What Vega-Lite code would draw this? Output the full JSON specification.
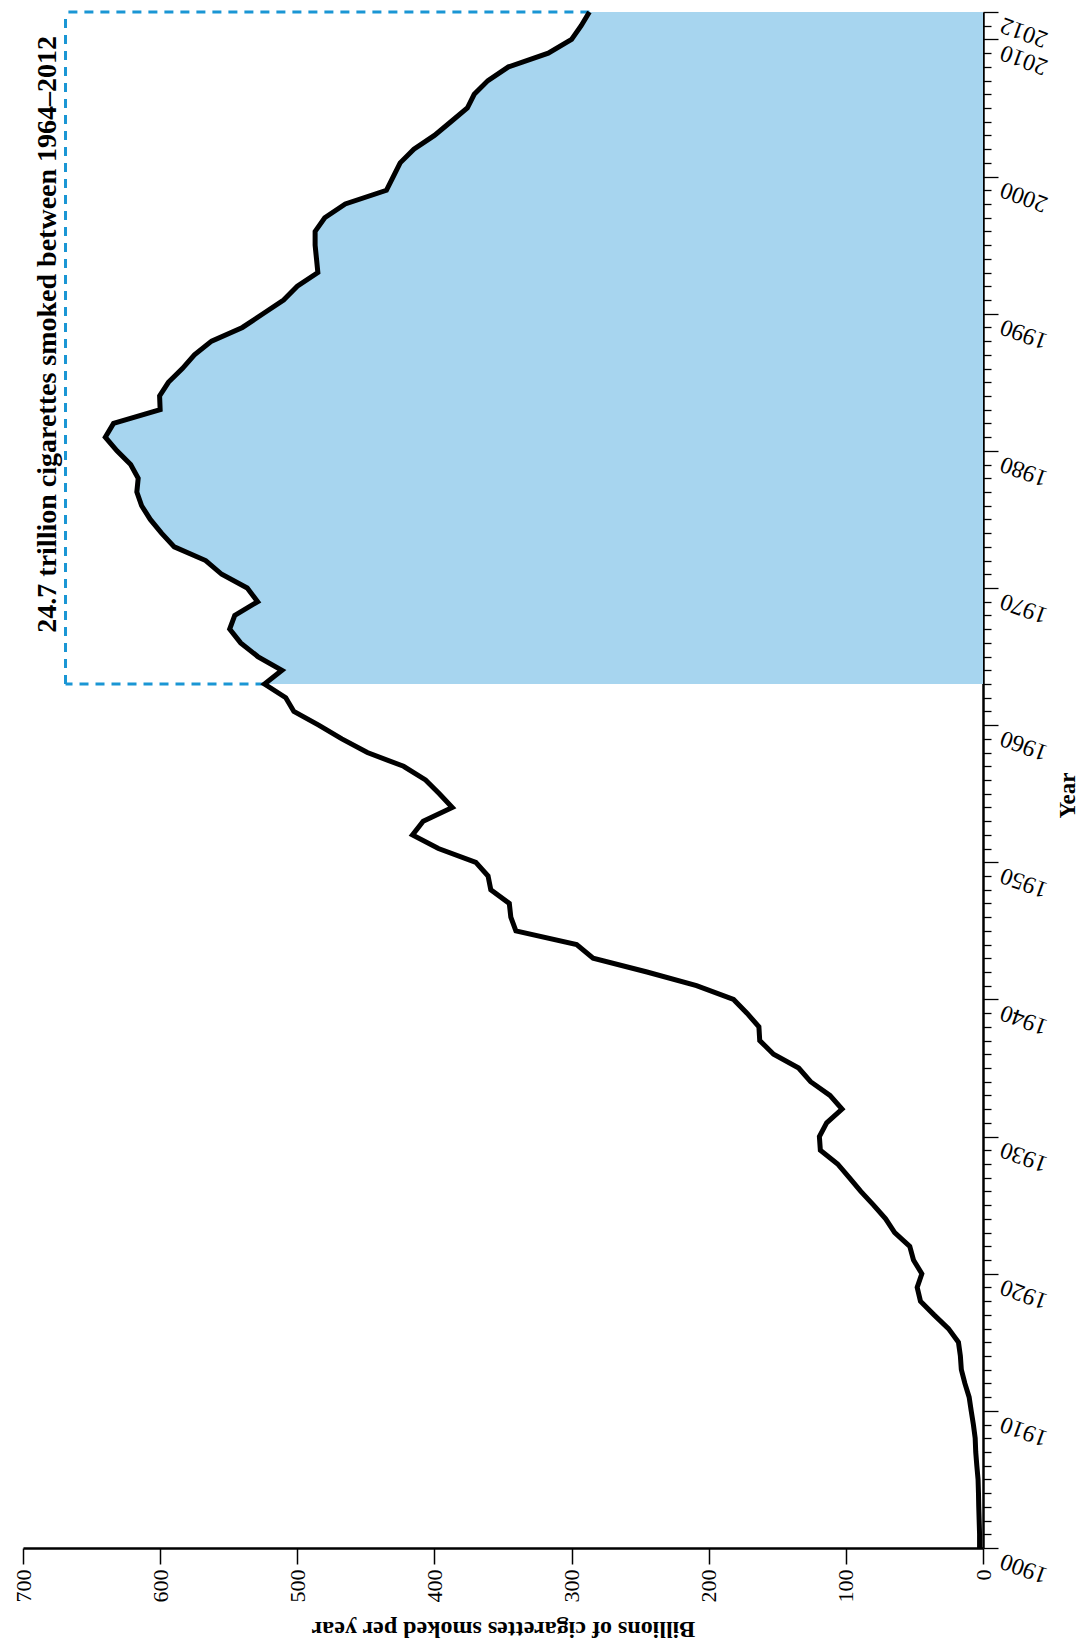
{
  "$schema": "https://vega.github.io/schema/vega-lite/v6.json",
  "width": 960,
  "height": 1536,
  "autosize": {"type": "none"},
  "padding": {"left": 23, "top": 12, "right": 101, "bottom": 96},
  "background": "white",
  "config": {
    "view": {"stroke": null},
    "font": "Liberation Serif"
  },
  "resolve": {"axis": {"x": "independent", "y": "independent"}},
  "datasets": {
    "cig": [
      {"year": 1900, "billions": 2.5}, {"year": 1901, "billions": 2.5}, {"year": 1902, "billions": 2.8}, {"year": 1903, "billions": 3.1}, {"year": 1904, "billions": 3.3}, {"year": 1905, "billions": 3.6}, {"year": 1906, "billions": 4.5}, {"year": 1907, "billions": 5.3}, {"year": 1908, "billions": 5.7}, {"year": 1909, "billions": 7.0},
      {"year": 1910, "billions": 8.6}, {"year": 1911, "billions": 10.1}, {"year": 1912, "billions": 13.2}, {"year": 1913, "billions": 15.8}, {"year": 1914, "billions": 16.5}, {"year": 1915, "billions": 17.9}, {"year": 1916, "billions": 25.2}, {"year": 1917, "billions": 35.7}, {"year": 1918, "billions": 45.6}, {"year": 1919, "billions": 48.0},
      {"year": 1920, "billions": 44.6}, {"year": 1921, "billions": 50.7}, {"year": 1922, "billions": 53.4}, {"year": 1923, "billions": 64.4}, {"year": 1924, "billions": 71.0}, {"year": 1925, "billions": 79.8}, {"year": 1926, "billions": 89.1}, {"year": 1927, "billions": 97.5}, {"year": 1928, "billions": 106.0}, {"year": 1929, "billions": 118.6},
      {"year": 1930, "billions": 119.3}, {"year": 1931, "billions": 114.0}, {"year": 1932, "billions": 102.8}, {"year": 1933, "billions": 111.6}, {"year": 1934, "billions": 125.7}, {"year": 1935, "billions": 134.4}, {"year": 1936, "billions": 152.7}, {"year": 1937, "billions": 162.8}, {"year": 1938, "billions": 163.4}, {"year": 1939, "billions": 172.1},
      {"year": 1940, "billions": 181.9}, {"year": 1941, "billions": 208.9}, {"year": 1942, "billions": 245.0}, {"year": 1943, "billions": 284.3}, {"year": 1944, "billions": 296.3}, {"year": 1945, "billions": 340.6}, {"year": 1946, "billions": 344.3}, {"year": 1947, "billions": 345.4}, {"year": 1948, "billions": 358.9}, {"year": 1949, "billions": 360.9},
      {"year": 1950, "billions": 369.8}, {"year": 1951, "billions": 397.1}, {"year": 1952, "billions": 416.0}, {"year": 1953, "billions": 408.2}, {"year": 1954, "billions": 387.0}, {"year": 1955, "billions": 396.4}, {"year": 1956, "billions": 406.5}, {"year": 1957, "billions": 422.5}, {"year": 1958, "billions": 448.9}, {"year": 1959, "billions": 467.5},
      {"year": 1960, "billions": 484.4}, {"year": 1961, "billions": 502.5}, {"year": 1962, "billions": 508.4}, {"year": 1963, "billions": 523.9}, {"year": 1964, "billions": 511.2}, {"year": 1965, "billions": 528.8}, {"year": 1966, "billions": 541.3}, {"year": 1967, "billions": 549.3}, {"year": 1968, "billions": 545.6}, {"year": 1969, "billions": 528.9},
      {"year": 1970, "billions": 536.5}, {"year": 1971, "billions": 555.1}, {"year": 1972, "billions": 566.8}, {"year": 1973, "billions": 589.7}, {"year": 1974, "billions": 599.0}, {"year": 1975, "billions": 607.2}, {"year": 1976, "billions": 613.5}, {"year": 1977, "billions": 617.0}, {"year": 1978, "billions": 616.0}, {"year": 1979, "billions": 621.5},
      {"year": 1980, "billions": 631.5}, {"year": 1981, "billions": 640.0}, {"year": 1982, "billions": 634.0}, {"year": 1983, "billions": 600.0}, {"year": 1984, "billions": 600.4}, {"year": 1985, "billions": 594.0}, {"year": 1986, "billions": 583.8}, {"year": 1987, "billions": 575.0}, {"year": 1988, "billions": 562.5}, {"year": 1989, "billions": 540.0},
      {"year": 1990, "billions": 525.0}, {"year": 1991, "billions": 510.0}, {"year": 1992, "billions": 500.0}, {"year": 1993, "billions": 485.0}, {"year": 1994, "billions": 486.0}, {"year": 1995, "billions": 487.0}, {"year": 1996, "billions": 487.0}, {"year": 1997, "billions": 480.0}, {"year": 1998, "billions": 465.0}, {"year": 1999, "billions": 435.0},
      {"year": 2000, "billions": 430.0}, {"year": 2001, "billions": 425.0}, {"year": 2002, "billions": 415.0}, {"year": 2003, "billions": 400.0}, {"year": 2004, "billions": 388.0}, {"year": 2005, "billions": 376.0}, {"year": 2006, "billions": 371.0}, {"year": 2007, "billions": 361.0}, {"year": 2008, "billions": 346.0}, {"year": 2009, "billions": 317.0},
      {"year": 2010, "billions": 300.0}, {"year": 2011, "billions": 293.0}, {"year": 2012, "billions": 287.0}
    ],
    "box": [
      {"x1": 669, "x2": 669, "y1": 1963, "y2": 2012},
      {"x1": 287, "x2": 669, "y1": 2012, "y2": 2012},
      {"x1": 523.9, "x2": 669, "y1": 1963, "y2": 1963}
    ],
    "note": [
      {"label": "24.7 trillion cigarettes smoked between 1964–2012", "billions": 682, "year": 1988.5}
    ]
  },
  "layer": [
    {
      "data": {"name": "cig"},
      "transform": [{"filter": "datum.year >= 1963"}],
      "mark": {"type": "area", "orient": "horizontal", "color": "#a7d5ef", "opacity": 1},
      "encoding": {
        "y": {"field": "year", "type": "quantitative", "scale": {"domain": [1900, 2012], "nice": false, "zero": false}, "axis": null},
        "x": {"field": "billions", "type": "quantitative", "scale": {"domain": [0, 700], "reverse": true, "nice": false}, "axis": null}
      }
    },
    {
      "data": {"name": "box"},
      "mark": {"type": "rule", "color": "#1a96d4", "strokeWidth": 3, "strokeDash": [9, 7]},
      "encoding": {
        "x": {"field": "x1", "type": "quantitative", "scale": {"domain": [0, 700], "reverse": true, "nice": false}, "axis": null},
        "x2": {"field": "x2"},
        "y": {"field": "y1", "type": "quantitative", "scale": {"domain": [1900, 2012], "nice": false, "zero": false}, "axis": null},
        "y2": {"field": "y2"}
      }
    },
    {
      "data": {"name": "cig"},
      "mark": {"type": "line", "color": "black", "strokeWidth": 5, "strokeJoin": "miter"},
      "encoding": {
        "y": {
          "field": "year", "type": "quantitative",
          "scale": {"domain": [1900, 2012], "nice": false, "zero": false},
          "axis": {
            "orient": "right",
            "title": "Year",
            "values": [1900,1901,1902,1903,1904,1905,1906,1907,1908,1909,1910,1911,1912,1913,1914,1915,1916,1917,1918,1919,1920,1921,1922,1923,1924,1925,1926,1927,1928,1929,1930,1931,1932,1933,1934,1935,1936,1937,1938,1939,1940,1941,1942,1943,1944,1945,1946,1947,1948,1949,1950,1951,1952,1953,1954,1955,1956,1957,1958,1959,1960,1961,1962,1963,1964,1965,1966,1967,1968,1969,1970,1971,1972,1973,1974,1975,1976,1977,1978,1979,1980,1981,1982,1983,1984,1985,1986,1987,1988,1989,1990,1991,1992,1993,1994,1995,1996,1997,1998,1999,2000,2001,2002,2003,2004,2005,2006,2007,2008,2009,2010,2011,2012],
            "labelExpr": "(datum.value % 10 === 0 || datum.value === 2012) ? format(datum.value, 'd') : ''",
            "labelOverlap": false,
            "labelAngle": 200,
            "labelAlign": "right",
            "labelBaseline": "bottom",
            "labelPadding": 7,
            "labelFont": "Liberation Serif",
            "labelFontSize": 24,
            "labelColor": "black",
            "tickSize": {"condition": {"test": "datum.value % 10 === 0 || datum.value === 2012", "value": 15}, "value": 8},
            "tickColor": "black",
            "tickWidth": 1.3,
            "domainColor": "black",
            "domainWidth": 2.5,
            "grid": false,
            "titleAngle": 270,
            "titleFont": "Liberation Serif",
            "titleFontSize": 23,
            "titleFontWeight": "bold",
            "titleColor": "black",
            "titleBaseline": "middle",
            "titleAlign": "center",
            "titleX": 84,
            "titleY": 783
          }
        },
        "x": {
          "field": "billions", "type": "quantitative",
          "scale": {"domain": [0, 700], "reverse": true, "nice": false},
          "axis": {
            "orient": "bottom",
            "title": "Billions of cigarettes smoked per year",
            "values": [0, 100, 200, 300, 400, 500, 600, 700],
            "labelAngle": 270,
            "labelAlign": "right",
            "labelBaseline": "middle",
            "labelPadding": 5,
            "labelFont": "Liberation Serif",
            "labelFontSize": 22,
            "labelColor": "black",
            "tickSize": 16,
            "tickColor": "black",
            "tickWidth": 1.5,
            "domainColor": "black",
            "domainWidth": 2.5,
            "grid": false,
            "titleAngle": 180,
            "titleFont": "Liberation Serif",
            "titleFontSize": 24,
            "titleFontWeight": "bold",
            "titleColor": "black",
            "titleBaseline": "middle",
            "titleAlign": "center",
            "titleX": 480,
            "titleY": 80
          }
        },
        "order": {"field": "year", "type": "quantitative"}
      }
    },
    {
      "data": {"name": "note"},
      "mark": {"type": "text", "angle": 270, "font": "Liberation Serif", "fontSize": 28, "fontWeight": "bold", "color": "black", "align": "center", "baseline": "middle"},
      "encoding": {
        "x": {"field": "billions", "type": "quantitative", "scale": {"domain": [0, 700], "reverse": true, "nice": false}, "axis": null},
        "y": {"field": "year", "type": "quantitative", "scale": {"domain": [1900, 2012], "nice": false, "zero": false}, "axis": null},
        "text": {"field": "label"}
      }
    }
  ]
}
